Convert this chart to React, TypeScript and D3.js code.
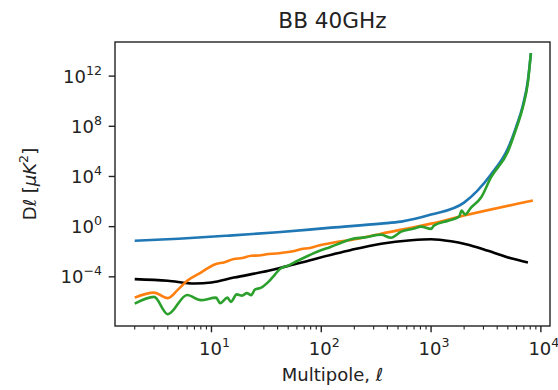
import React from "react";
import * as d3 from "d3";

const blueL = [2, 5, 14, 40, 123, 350, 534, 1000, 1995, 3508, 5012, 5930, 6855, 7621, 8110];
const blueV = [7.6e-2, 1.1e-1, 0.19, 0.355, 0.83, 1.74, 2.51, 9.1, 83, 1.45e4, 1.74e6, 8.3e7, 4.8e9, 4.8e11, 6.9e13];

const orangeL = [2, 3, 4, 5, 6, 8, 11, 13, 16, 19, 23, 27, 33, 39, 46, 55, 66, 79, 93, 131, 187, 351, 1000, 1995, 8450];
const orangeV = [2.19e-6, 5.5e-6, 2.0e-6, 1.05e-5, 4.8e-5, 2.19e-4, 1.05e-3, 1.41e-3, 2.63e-3, 3.16e-3, 4.79e-3, 5.0e-3, 6.6e-3, 7.2e-3, 8.7e-3, 1.1e-2, 1.66e-2, 2.0e-2, 3.0e-2, 5.5e-2, 8.7e-2, 0.275, 1.74, 7.6, 120];

const greenL = [2, 3, 4, 6, 8, 11, 12, 14, 15, 17, 19, 21, 23, 25, 28, 33, 38, 42, 50, 61, 76, 93, 123, 150, 187, 250, 351, 430, 534, 700, 810, 1000, 1060, 1430, 1800, 1900, 2040, 2310, 2850, 3508, 5012, 5930, 6855, 7621, 8110];
const greenV = [7.2e-7, 2.5e-6, 1.05e-7, 3.6e-6, 1.38e-6, 2.19e-6, 7.9e-7, 2.19e-6, 1.0e-6, 4.0e-6, 3.2e-6, 5.0e-6, 3.5e-6, 1.0e-5, 1.3e-5, 4.0e-5, 1.6e-4, 4.2e-4, 7.9e-4, 1.9e-3, 4.8e-3, 1.05e-2, 2.5e-2, 5.0e-2, 0.1, 0.14, 0.23, 0.13, 0.4, 0.71, 1.0, 0.66, 1.2, 3.0, 6.3, 19, 9.1, 33, 209, 8.3e3, 1.0e6, 5.8e7, 3.3e9, 3.3e11, 6.9e13];

const blackL = [2, 4, 7, 10, 16, 33, 66, 131, 187, 351, 658, 1000, 1520, 2080, 3300, 5340, 7620];
const blackV = [6.6e-5, 4.8e-5, 2.9e-5, 3.5e-5, 8.7e-5, 3.0e-4, 1.4e-3, 6.6e-3, 1.4e-2, 4.4e-2, 8.3e-2, 0.1, 6.9e-2, 4.0e-2, 1.2e-2, 3.0e-3, 1.4e-3];

const xMajor = [1, 2, 3, 4];
const yMajor = [-4, 0, 4, 8, 12];

const W = 558, H = 390;
const L = 115, R = 550, T = 42, B = 326;
const FONT = "DejaVu Sans, sans-serif";

export default function App() {
  const x = d3.scaleLog().domain([Math.pow(10, 0.1215), Math.pow(10, 4.083)]).range([L, R]);
  const y = d3.scaleLog().domain([Math.pow(10, -7.92), Math.pow(10, 14.72)]).range([B, T]);

  const mk = (ls: number[], vs: number[]) =>
    d3.line<number>().x((_, i) => x(ls[i])).y((v) => y(v)).curve(d3.curveMonotoneX)(vs) || "";

  const minor: number[] = [];
  for (let e = 0; e <= 4; e++) {
    for (let m = 2; m <= 9; m++) {
      const v = m * Math.pow(10, e);
      if (v >= x.domain()[0] && v <= x.domain()[1]) minor.push(v);
    }
  }

  const series = [
    { l: blackL, v: blackV, c: "#000000" },
    { l: blueL, v: blueV, c: "#1f77b4" },
    { l: orangeL, v: orangeV, c: "#ff7f0e" },
    { l: greenL, v: greenV, c: "#2ca02c" },
  ];

  return (
    <svg width={W} height={H} style={{ position: "absolute", left: 0, top: 0, background: "#fff" }} fontFamily={FONT}>
      <rect x={0} y={0} width={W} height={H} fill="#fff" />
      {series.map((s, i) => (
        <path key={i} d={mk(s.l, s.v)} fill="none" stroke={s.c} strokeWidth={2.6} strokeLinejoin="round" strokeLinecap="butt" />
      ))}
      <rect x={L} y={T} width={R - L} height={B - T} fill="none" stroke="#222" strokeWidth={1.4} />
      {minor.map((v, i) => (
        <line key={"mn" + i} x1={x(v)} x2={x(v)} y1={B} y2={B + 3.6} stroke="#222" strokeWidth={1.1} />
      ))}
      {xMajor.map((e) => {
        const px = x(Math.pow(10, e));
        return (
          <g key={"xm" + e}>
            <line x1={px} x2={px} y1={B} y2={B + 6.3} stroke="#222" strokeWidth={1.4} />
            <text x={px + 3} y={355} fontSize={18} textAnchor="middle" fill="#222">
              10<tspan fontSize={12.6} dy={-8}>{e}</tspan>
            </text>
          </g>
        );
      })}
      {yMajor.map((e) => {
        const py = y(Math.pow(10, e));
        const lab = e < 0 ? "\u2212" + Math.abs(e) : String(e);
        return (
          <g key={"ym" + e}>
            <line x1={L - 6.3} x2={L} y1={py} y2={py} stroke="#222" strokeWidth={1.4} />
            <text x={102} y={py + 6.5} fontSize={18} textAnchor="end" fill="#222">
              10<tspan fontSize={12.6} dy={-8}>{lab}</tspan>
            </text>
          </g>
        );
      })}
      <text x={(L + R) / 2} y={28} fontSize={21.6} textAnchor="middle" fill="#222">BB 40GHz</text>
      <text x={(L + R) / 2} y={381} fontSize={18} textAnchor="middle" fill="#222">
        Multipole, <tspan fontStyle="italic">ℓ</tspan>
      </text>
      <text transform={`translate(36, ${(T + B) / 2}) rotate(-90)`} fontSize={18} textAnchor="middle" fill="#222">
        Dℓ [<tspan fontStyle="italic">μK</tspan><tspan fontSize={12.6} dy={-8}>2</tspan><tspan dy={8}>]</tspan>
      </text>
    </svg>
  );
}
